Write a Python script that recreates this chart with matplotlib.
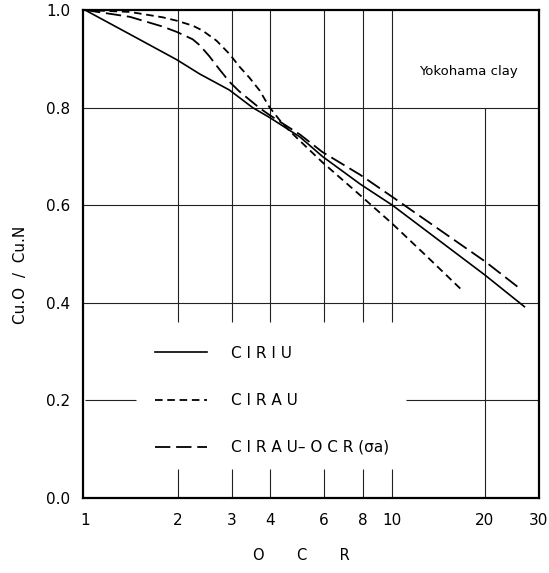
import matplotlib
matplotlib.use("Agg")
import matplotlib.pyplot as plt

# Undrained strength ratio Cu.O / Cu.N against OCR, Yokohama clay
ocr_ciriu = [1.0, 1.5, 1.99, 2.36, 2.95, 3.51, 3.98, 5.0, 5.92, 7.87, 10.0, 20.0, 26.9]
cu_ciriu = [1.0, 0.94, 0.898, 0.869, 0.836, 0.80, 0.78, 0.74, 0.70, 0.643, 0.60, 0.457, 0.392]

ocr_cirau = [1.0, 1.40, 1.79, 1.99, 2.24, 2.41, 2.68, 2.95, 3.18, 3.43, 3.70, 3.98,
             4.29, 4.60, 5.0, 5.92, 7.87, 10.0, 13.0, 16.9]
cu_cirau = [1.0, 0.996, 0.985, 0.978, 0.968, 0.958, 0.937, 0.910, 0.884, 0.861, 0.835, 0.801,
            0.775, 0.754, 0.732, 0.688, 0.62, 0.562, 0.494, 0.425]

ocr_cirau_ocr = [1.0, 1.40, 1.79, 1.99, 2.24, 2.36, 2.54, 2.74, 2.95, 3.18, 3.43, 3.70,
                 3.98, 5.0, 5.92, 7.87, 10.0, 20.0, 25.9]
cu_cirau_ocr = [1.0, 0.986, 0.966, 0.955, 0.94, 0.928, 0.905, 0.878, 0.853, 0.833, 0.816, 0.799,
                0.785, 0.745, 0.709, 0.662, 0.617, 0.485, 0.43]

series_labels = ["C I R I U", "C I R A U", "C I R A U\u2013 O C R (\u03c3a)"]
x_ticks = [1, 2, 3, 4, 6, 8, 10, 20, 30]
y_ticks = [0.0, 0.2, 0.4, 0.6, 0.8, 1.0]

# grid layout: vertical lines broken around the key, 0.2 line broken too
vgrid_main = [2, 3, 4, 6, 8, 10]
vgrid_upper = (0.36, 1.0)
vgrid_lower = (0.0, 0.06)
vgrid_long = 20
vgrid_long_span = (0.0, 0.8)
hgrid_full = [0.4, 0.6, 0.8]
hgrid_broken = 0.2
hgrid_broken_spans = [(1.0, 1.46), (11.1, 30.0)]

plt.rcParams['font.family'] = ['DejaVu Sans']

fig = plt.figure(figsize=(5.49, 5.73), dpi=100)
ax = fig.add_axes([83 / 549, 75 / 573, 456 / 549, 488 / 573])
ax.set_xscale('log')
ax.set_xlim(0.985, 30)
ax.set_ylim(0.0, 1.0)

gkw = dict(color='#222222', linewidth=0.8, zorder=1)
ax.vlines(vgrid_main, *vgrid_upper, **gkw)
ax.vlines(vgrid_main, *vgrid_lower, **gkw)
ax.vlines([vgrid_long], *vgrid_long_span, **gkw)
ax.hlines(hgrid_full, 0.985, 30, **gkw)
for x0, x1 in hgrid_broken_spans:
    ax.hlines([hgrid_broken], x0, x1, **gkw)

l1, = ax.plot(ocr_ciriu, cu_ciriu, color='black', linewidth=1.2, zorder=3)
l2, = ax.plot(ocr_cirau, cu_cirau, color='black', linewidth=1.3, zorder=3,
              linestyle=(0, (4.2, 2.6)))
l3, = ax.plot(ocr_cirau_ocr, cu_cirau_ocr, color='black', linewidth=1.3, zorder=3,
              linestyle=(0, (8.5, 3.2)))

ax.legend([l1, l2, l3], series_labels, loc='center left',
          bbox_to_anchor=((155 - 83) / 456, 0.2), frameon=False,
          fontsize=11, borderpad=0, borderaxespad=0, handlelength=3.4,
          handletextpad=1.6, labelspacing=2.1)

ax.text(0.737, 0.873, "Yokohama clay", transform=ax.transAxes,
        ha='left', va='center', fontsize=9.5)

ax.set_xticks(x_ticks)
ax.set_xticklabels([str(v) for v in x_ticks])
ax.xaxis.set_minor_locator(matplotlib.ticker.NullLocator())
ax.set_yticks(y_ticks)
ax.set_yticklabels([f"{v:.1f}" for v in y_ticks])
ax.tick_params(axis='x', length=0, pad=11, labelsize=11)
ax.tick_params(axis='y', length=0, pad=9, labelsize=11)

for s in ax.spines.values():
    s.set_linewidth(1.6)
    s.set_color('black')

ax.set_xlabel("O       C       R", fontsize=10.5)
ax.xaxis.set_label_coords((301 - 83) / 456, -0.102)
ax.set_ylabel("Cu.O  /  Cu.N", fontsize=11)
ax.yaxis.set_label_coords(-0.121, 0.457)

fig.savefig("out.png", dpi=100)
